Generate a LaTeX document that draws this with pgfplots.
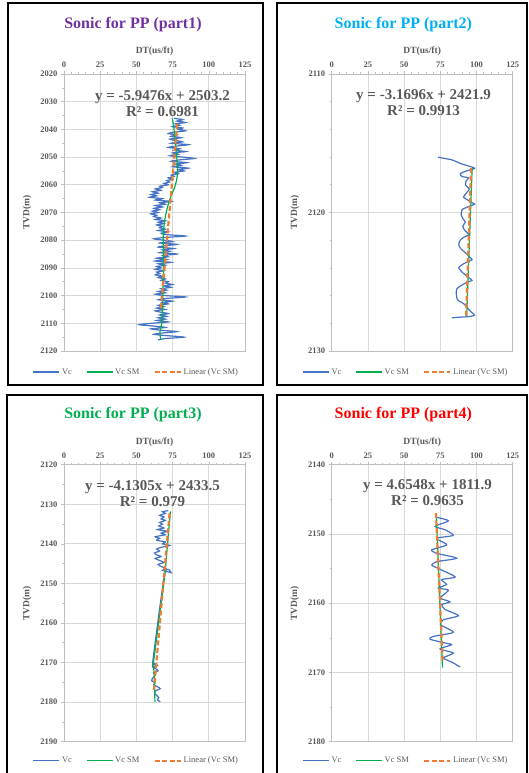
\documentclass[border=0pt]{standalone}
\usepackage{fontspec}
\setmainfont{Liberation Serif}
\usepackage{pgfplots}
\pgfplotsset{compat=1.18}
\definecolor{vcblue}{HTML}{4472C4}
\definecolor{vcgreen}{HTML}{00B050}
\definecolor{vcorange}{HTML}{ED7D31}
\definecolor{gridgray}{HTML}{D9D9D9}
\definecolor{axgray}{HTML}{BFBFBF}
\definecolor{txtgray}{HTML}{595959}
\definecolor{tpurple}{HTML}{7030A0}
\definecolor{tblue}{HTML}{00B0F0}
\definecolor{tgreen}{HTML}{00B050}
\definecolor{tred}{HTML}{FF0000}
\tikzset{eq/.style={font=\bfseries\fontsize{15}{16}\selectfont, text=txtgray, align=center}}
\pgfplotsset{
 sonic/.style={
  scale only axis, width=181pt, height=277pt,
  y dir=reverse, xmin=0, xmax=125, xtick={0,25,...,125},
  xtick pos=right, xticklabel pos=right, ytick pos=left,
  minor x tick num=4,
  tick align=outside, major tick length=3pt, minor tick length=2pt,
  every tick/.style={axgray, line width=0.6pt},
  axis line style={draw=axgray, line width=0.7pt},
  grid=major, major grid style={draw=gridgray, line width=0.7pt},
  ticklabel style={font=\bfseries\fontsize{8.5}{9}\selectfont, text=txtgray},
  /pgf/number format/assume math mode=true,
  /pgf/number format/set thousands separator={},
  xlabel={DT(us/ft)}, ylabel={TVD(m)},
  label style={font=\bfseries\fontsize{9.5}{10}\selectfont, text=txtgray},
  x label style={at={(axis description cs:0.5,1.083)}, anchor=center},
  y label style={at={(axis description cs:-0.204,0.5)}, anchor=center, rotate=0},
  title style={font=\bfseries\fontsize{16}{18}\selectfont, anchor=center, yshift=-8pt},
  legend columns=3,
  legend style={draw=none, fill=none, font=\fontsize{8.5}{9}\selectfont, text=txtgray,
    /tikz/every even column/.append style={column sep=12pt}},
  legend image code/.code={\draw[#1] (0pt,0pt) -- (26pt,0pt);},
 },
 vc/.style={vcblue, line width=1.2pt, smooth, tension=0.4},
 vcsm/.style={vcgreen, line width=1.2pt},
 lin/.style={vcorange, line width=2.2pt, dash pattern=on 5pt off 2.5pt},
}
\begin{document}
\begin{tikzpicture}
\useasboundingbox (0,0) rectangle (529pt,773pt);
% ---------------- Panel 1
\begin{axis}[sonic, at={(64pt,422pt)}, anchor=south west,
  ymin=2020, ymax=2120, ytick={2020,2030,...,2120}, minor y tick num=1,
  title={\textcolor{tpurple}{Sonic for PP (part1)}},
  title style={at={(axis description cs:0.381,1.184)}},
  legend style={at={(axis description cs:0.40,-0.076)}, anchor=center}]
\addplot[vc] coordinates {
(76,2036.0) (82,2036.5) (78,2037.0) (84,2037.5) (77,2038.0) (80,2038.5) (75,2039.0) (82,2039.5)
(79,2040.0) (84,2040.5) (76,2041.0) (72,2041.5) (78,2042.0) (74,2042.5) (81,2043.0) (73,2043.5)
(77,2044.0) (82,2044.5) (74,2045.0) (86,2045.5) (78,2046.0) (72,2046.5) (80,2047.0) (76,2047.5)
(84,2048.0) (75,2048.5) (79,2049.0) (73,2049.5) (82,2050.0) (90,2050.5) (80,2051.0) (74,2051.5)
(85,2052.0) (77,2052.5) (81,2053.0) (75,2053.5) (86,2054.0) (79,2054.5) (83,2055.0) (76,2055.5)
(79,2056.0) (74,2056.5) (76,2057.0) (72,2057.5) (75,2058.0) (71,2058.5) (73,2059.0) (69,2059.5)
(72,2060.0) (66,2060.5) (68,2061.0) (63,2061.5) (67,2062.0) (61,2062.5) (65,2063.0) (60,2063.5)
(64,2064.0) (59,2064.5) (68,2065.0) (63,2065.5) (74,2066.0) (66,2066.5) (70,2067.0) (63,2067.5)
(68,2068.0) (62,2068.5) (66,2069.0) (61,2069.5) (65,2070.0) (60,2070.5) (64,2071.0) (62,2071.5)
(67,2072.0) (63,2072.5) (70,2073.0) (65,2073.5) (69,2074.0) (64,2074.5) (68,2075.0) (66,2075.5)
(70,2076.0) (65,2076.5) (72,2077.0) (67,2077.5) (71,2078.0) (84,2078.5) (70,2079.0) (62,2079.5)
(69,2080.0) (75,2080.5) (66,2081.0) (78,2081.5) (70,2082.0) (65,2082.5) (76,2083.0) (68,2083.5)
(73,2084.0) (66,2084.5) (78,2085.0) (68,2085.5) (72,2086.0) (64,2086.5) (71,2087.0) (63,2087.5)
(74,2088.0) (65,2088.5) (70,2089.0) (64,2089.5) (67,2090.0) (63,2090.5) (69,2091.0) (64,2091.5)
(66,2092.0) (63,2092.5) (68,2093.0) (65,2093.5) (70,2094.0) (67,2094.5) (72,2095.0) (70,2095.5)
(75,2096.0) (69,2096.5) (74,2097.0) (67,2097.5) (71,2098.0) (65,2098.5) (70,2099.0) (63,2099.5)
(70,2100.0) (84,2100.5) (71,2101.0) (65,2101.5) (75,2102.0) (68,2102.5) (72,2103.0) (65,2103.5)
(69,2104.0) (64,2104.5) (70,2105.0) (63,2105.5) (67,2106.0) (72,2106.5) (66,2107.0) (71,2107.5)
(65,2108.0) (70,2108.5) (64,2109.0) (72,2109.5) (60,2110.0) (52,2110.5) (62,2111.0) (70,2111.5)
(60,2112.0) (67,2112.5) (78,2113.0) (68,2113.5) (62,2114.0) (72,2114.5) (83,2115.0) (70,2115.5)
(65,2116.0)};
\addlegendentry{Vc}
\addplot[vcsm, smooth] coordinates {
(74.8,2036) (76,2040) (77.5,2048) (78.5,2055) (77,2060) (74,2064) (71.5,2068) (69.5,2073)
(68.5,2078) (68.6,2082) (68.8,2088) (68.5,2094) (68.2,2100) (67.8,2106) (67.5,2110) (66.3,2113) (66.8,2116)};
\addlegendentry{Vc SM}
\addplot[lin] coordinates {(78.2,2038) (66.8,2105.5)};
\addlegendentry{Linear (Vc SM)}
\node[eq] at (axis cs:68,2030.6) {y = -5.9476x + 2503.2\\R² = 0.6981};
\end{axis}
% ---------------- Panel 2
\begin{axis}[sonic, at={(331.7pt,422pt)}, anchor=south west,
  ymin=2110, ymax=2130, ytick={2110,2120,2130}, minor y tick num=4,
  title={\textcolor{tblue}{Sonic for PP (part2)}},
  title style={at={(axis description cs:0.396,1.184)}},
  legend style={at={(axis description cs:0.41,-0.076)}, anchor=center}]
\addplot[vc] coordinates {
(73.4,2116.0) (78,2116.1) (83,2116.2) (90,2116.5) (98.7,2116.8) (93,2117.0) (88.8,2117.2) (90,2117.4)
(94.6,2117.5) (93,2117.7) (92.3,2118.0) (95,2118.3) (93,2118.6) (91,2118.9) (94,2119.1) (96.9,2119.3)
(98.7,2119.4) (94,2119.6) (90,2119.8) (89.5,2120.2) (91,2120.5) (92.3,2120.7) (90.5,2121.0) (92,2121.3)
(94.6,2121.6) (91,2121.8) (88.8,2122.0) (87.7,2122.3) (89,2122.6) (92.3,2122.9) (95,2123.2) (96.9,2123.4)
(93,2123.6) (91.1,2123.7) (89,2123.85) (87.7,2124.0) (90,2124.3) (93.4,2124.6) (96.9,2124.9) (94,2125.0)
(92.3,2125.1) (89,2125.3) (86.5,2125.5) (86,2125.8) (86.5,2126.2) (88,2126.4) (90,2126.5) (92.3,2126.7)
(94.6,2127.0) (96.5,2127.2) (98.7,2127.4) (96,2127.5) (90,2127.55) (83,2127.6)};
\addlegendentry{Vc}
\addplot[vcsm] coordinates {(97.0,2116.8) (93.2,2127.5)};
\addlegendentry{Vc SM}
\addplot[lin] coordinates {(96.3,2116.8) (92.8,2127.6)};
\addlegendentry{Linear (Vc SM)}
\node[eq] at (axis cs:63.4,2112.1) {y = -3.1696x + 2421.9\\R² = 0.9913};
\end{axis}
% ---------------- Panel 3
\begin{axis}[sonic, at={(64pt,31.3pt)}, anchor=south west,
  ymin=2120, ymax=2190, ytick={2120,2130,...,2190}, minor y tick num=1,
  title={\textcolor{tgreen}{Sonic for PP (part3)}},
  title style={at={(axis description cs:0.381,1.187)}},
  legend style={at={(axis description cs:0.40,-0.0686)}, anchor=center}]
\addplot[vc] coordinates {
(72,2131.6) (68,2131.9) (70,2132.3) (66,2132.8) (69,2133.2) (67,2133.7) (70,2134.1) (66,2134.6)
(68,2135.0) (65.5,2135.5) (69,2136.0) (64.5,2136.4) (71,2136.8) (67,2137.3) (70,2137.7) (63,2138.2)
(66,2138.6) (64,2139.1) (70,2139.5) (68,2140.0) (73,2140.4) (67,2140.9) (64,2141.3) (66,2141.8)
(62.5,2142.3) (64,2142.8) (67,2143.2) (63,2143.7) (66,2144.2) (69,2144.7) (65,2145.2) (67,2145.7)
(70,2146.2) (68,2146.7) (74,2147.3) (69.6,2147.5) (61.3,2169.8) (62.5,2170.3) (64.5,2170.7) (61.5,2171.2)
(63.5,2171.6) (65,2172.1) (62,2172.6) (63,2173.2) (61,2174.0) (60.5,2174.6) (63,2175.1) (62,2175.6)
(64.5,2176.1) (66.5,2176.6) (63.5,2177.1) (62.5,2177.7) (64,2178.3) (65.5,2178.9) (64.5,2179.4) (66.5,2179.9)};
\addlegendentry{Vc}
\addplot[vcsm] coordinates {(73.5,2131.8) (69.8,2147.3) (61.8,2170) (62.5,2175) (62.8,2180)};
\addlegendentry{Vc SM}
\addplot[lin] coordinates {(72.9,2132.3) (62.0,2177.5)};
\addlegendentry{Linear (Vc SM)}
\node[eq] at (axis cs:61.1,2127.3) {y = -4.1305x + 2433.5\\R² = 0.979};
\end{axis}
% ---------------- Panel 4
\begin{axis}[sonic, at={(331.7pt,31.3pt)}, anchor=south west,
  ymin=2140, ymax=2180, ytick={2140,2150,...,2180}, minor y tick num=1,
  title={\textcolor{tred}{Sonic for PP (part4)}},
  title style={at={(axis description cs:0.396,1.187)}},
  legend style={at={(axis description cs:0.41,-0.0686)}, anchor=center}]
\addplot[vc] coordinates {
(72.5,2147.6) (80.6,2148.1) (71.4,2148.9) (78.3,2149.4) (84.0,2150.2) (72.5,2150.6) (75.9,2151.1) (79.4,2151.6)
(69.1,2152.3) (72.5,2152.8) (86.3,2153.5) (72.5,2154.0) (69.1,2154.5) (73.7,2155.0) (85.2,2156.2) (75.9,2156.6)
(79.4,2157.3) (73.7,2157.8) (80.6,2158.1) (77.1,2158.8) (75.0,2159.3) (81.7,2159.8) (76.0,2160.2) (78.3,2160.9)
(87.5,2161.8) (77.1,2162.4) (75.0,2163.1) (84.0,2164.2) (70.2,2164.8) (67.9,2165.2) (79.4,2165.8) (82.9,2166.0)
(74.8,2166.6) (84.0,2167.2) (77.1,2167.9) (82.9,2168.5) (88.6,2169.2)};
\addlegendentry{Vc}
\addplot[vcsm] coordinates {(72.3,2147.5) (76.5,2169.3)};
\addlegendentry{Vc SM}
\addplot[lin] coordinates {(72.0,2147.0) (76.6,2168.3)};
\addlegendentry{Linear (Vc SM)}
\node[eq] at (axis cs:66.2,2144.1) {y = 4.6548x + 1811.9\\R² = 0.9635};
\end{axis}
% ---------------- panel frames
\draw[black, line width=2.5pt] (8pt,388pt) rectangle (263pt,770pt);
\draw[black, line width=2.5pt] (277pt,388pt) rectangle (527pt,770pt);
\draw[black, line width=2.5pt] (7pt,-5pt) rectangle (263pt,378pt);
\draw[black, line width=2.5pt] (277pt,-5pt) rectangle (527pt,378pt);
\end{tikzpicture}
\end{document}
